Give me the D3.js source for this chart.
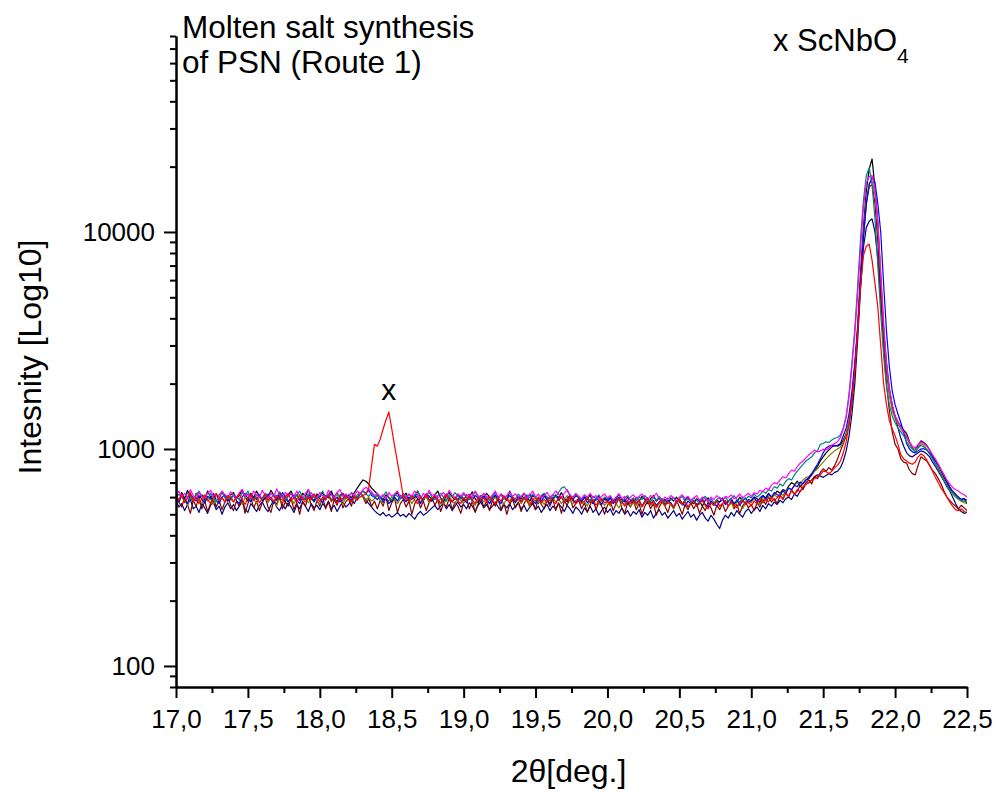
<!DOCTYPE html>
<html>
<head>
<meta charset="utf-8">
<script src="https://cdn.jsdelivr.net/npm/d3@7"></script>
<style>
  html, body { margin: 0; padding: 0; background: #fff; }
  svg { display: block; }
  text { font-family: Arial, "Liberation Sans", Helvetica, sans-serif; fill: #000; }
</style>
</head>
<body>
<svg id="chart" width="997" height="792"></svg>
<script>
// 2-theta sampling positions (deg.), shared by all scans
const angle = [
  17.00,17.02,17.04,17.06,17.08,17.10,17.12,17.14,17.16,17.18,
  17.20,17.22,17.24,17.26,17.28,17.30,17.32,17.34,17.36,17.38,
  17.40,17.42,17.44,17.46,17.48,17.50,17.52,17.54,17.56,17.58,
  17.60,17.62,17.64,17.66,17.68,17.70,17.72,17.74,17.76,17.78,
  17.80,17.82,17.84,17.86,17.88,17.90,17.92,17.94,17.96,17.98,
  18.00,18.02,18.04,18.06,18.08,18.10,18.12,18.14,18.16,18.18,
  18.20,18.22,18.24,18.26,18.28,18.30,18.32,18.34,18.36,18.38,
  18.40,18.42,18.44,18.46,18.48,18.50,18.52,18.54,18.56,18.58,
  18.60,18.62,18.64,18.66,18.68,18.70,18.72,18.74,18.76,18.78,
  18.80,18.82,18.84,18.86,18.88,18.90,18.92,18.94,18.96,18.98,
  19.00,19.02,19.04,19.06,19.08,19.10,19.12,19.14,19.16,19.18,
  19.20,19.22,19.24,19.26,19.28,19.30,19.32,19.34,19.36,19.38,
  19.40,19.42,19.44,19.46,19.48,19.50,19.52,19.54,19.56,19.58,
  19.60,19.62,19.64,19.66,19.68,19.70,19.72,19.74,19.76,19.78,
  19.80,19.82,19.84,19.86,19.88,19.90,19.92,19.94,19.96,19.98,
  20.00,20.02,20.04,20.06,20.08,20.10,20.12,20.14,20.16,20.18,
  20.20,20.22,20.24,20.26,20.28,20.30,20.32,20.34,20.36,20.38,
  20.40,20.42,20.44,20.46,20.48,20.50,20.52,20.54,20.56,20.58,
  20.60,20.62,20.64,20.66,20.68,20.70,20.72,20.74,20.76,20.78,
  20.80,20.82,20.84,20.86,20.88,20.90,20.92,20.94,20.96,20.98,
  21.00,21.02,21.04,21.06,21.08,21.10,21.12,21.14,21.16,21.18,
  21.20,21.22,21.24,21.26,21.28,21.30,21.32,21.34,21.36,21.38,
  21.40,21.42,21.44,21.46,21.48,21.50,21.52,21.54,21.56,21.58,
  21.60,21.62,21.64,21.66,21.68,21.70,21.72,21.74,21.76,21.78,
  21.80,21.82,21.84,21.86,21.88,21.90,21.92,21.94,21.96,21.98,
  22.00,22.02,22.04,22.06,22.08,22.10,22.12,22.14,22.16,22.18,
  22.20,22.22,22.24,22.26,22.28,22.30,22.32,22.34,22.36,22.38,
  22.40,22.42,22.44,22.46,22.48,22.50
];

// Measured intensities (counts) for each scan
const scanBlack = [
  610,575,630,590,645,600,570,625,595,615,
  580,640,600,565,620,590,635,605,575,615,
  630,590,610,650,600,575,625,595,640,605,
  585,620,600,645,610,580,630,600,570,615,
  640,595,615,580,625,605,650,600,575,620,
  600,630,585,615,640,595,570,610,625,590,
  615,595,630,660,690,720,710,690,660,640,
  620,600,585,615,595,570,610,630,590,605,
  625,580,610,595,640,600,575,620,605,585,
  615,640,595,570,610,630,600,585,620,595,
  580,615,600,635,590,565,610,595,625,600,
  575,610,590,620,600,580,640,595,570,605,
  590,625,600,575,610,595,560,600,620,585,
  605,580,615,595,630,590,570,605,585,610,
  595,570,600,585,615,560,590,605,575,595,
  580,600,565,590,620,585,570,600,580,560,
  595,575,605,585,560,590,610,575,595,565,
  585,560,595,575,600,570,555,585,600,570,
  560,590,575,545,580,595,565,550,580,570,
  595,560,575,590,555,570,600,580,560,585,
  575,600,590,565,610,595,625,600,615,640,
  625,650,640,675,700,685,710,670,695,720,
  730,760,790,830,880,920,960,990,1020,1040,
  1030,1050,1100,1180,1330,1700,2400,3700,6500,10500,
  15500,19500,21700,16000,11000,6000,3500,2300,1800,1550,
  1420,1330,1270,1220,1180,1080,1010,990,1040,1090,
  1070,1040,990,930,880,840,790,740,700,660,
  630,610,600,585,590,560
];
const scanNavy = [
  575,540,560,520,555,585,530,545,510,560,
  535,505,550,570,525,545,500,540,565,530,
  555,520,545,575,530,510,560,540,515,550,
  570,535,515,550,580,540,520,555,530,565,
  540,510,555,530,570,545,515,560,535,550,
  525,560,540,575,530,550,515,545,570,540,
  555,585,560,600,625,610,580,560,540,520,
  505,495,510,490,500,485,495,510,490,500,
  485,505,490,475,500,515,495,505,520,535,
  550,525,545,565,530,555,520,545,570,540,
  555,530,565,545,515,550,570,535,555,525,
  545,570,540,520,555,535,560,525,545,565,
  530,550,515,540,560,525,545,510,535,555,
  520,545,530,560,540,515,550,530,505,540,
  525,500,535,515,545,510,530,495,520,540,
  510,530,495,520,505,535,500,520,490,515,
  500,525,485,510,495,520,480,505,525,495,
  510,480,500,520,490,505,475,495,515,485,
  500,470,495,510,480,465,495,475,450,430,
  470,495,480,510,490,520,500,485,515,530,
  505,525,540,515,550,530,560,545,570,555,
  580,565,590,600,585,620,605,640,660,690,
  700,720,745,760,750,740,755,770,760,780,
  790,820,880,980,1150,1450,2000,3200,5500,8500,
  10500,11200,11500,10000,7500,5000,3500,2500,1900,1600,
  1400,1250,1120,1030,960,930,920,940,960,980,
  970,950,920,870,830,790,750,710,670,640,
  600,560,530,515,505,510
];
const scanWine = [
  625,570,540,600,555,505,580,545,595,530,
  575,515,560,600,540,580,525,570,610,550,
  520,575,545,590,505,560,600,535,575,520,
  565,600,540,510,580,555,610,530,570,545,
  590,525,565,500,575,545,605,555,520,580,
  545,600,530,570,515,585,550,605,535,570,
  590,545,610,580,625,600,560,590,545,575,
  530,580,545,600,520,565,590,510,560,585,
  540,575,500,560,590,535,575,520,565,595,
  550,585,515,560,540,595,525,570,545,505,
  565,590,530,575,510,555,600,540,575,520,
  580,545,590,525,565,500,555,585,535,570,
  515,560,590,540,575,525,600,555,530,580,
  545,590,520,565,505,575,550,595,535,560,
  580,530,565,510,555,585,525,570,545,500,
  550,575,520,560,595,535,505,565,540,580,
  525,560,500,545,575,530,560,495,540,570,
  545,510,565,530,580,540,500,555,525,565,
  530,560,505,545,520,570,535,495,550,525,
  560,515,545,575,530,555,505,545,570,535,
  555,520,565,540,585,555,600,570,590,560,
  610,585,630,600,650,620,640,680,650,700,
  720,690,750,730,780,810,790,820,800,840,
  900,980,1060,1150,1300,1650,2300,3500,5900,9500,
  13500,16200,16500,13500,9000,5000,3000,2000,1500,1200,
  1050,1000,900,870,860,800,770,760,840,920,
  900,880,840,800,770,730,690,640,600,580,
  560,545,530,550,535,520
];
const scanOlive = [
  595,565,610,580,550,600,575,620,585,560,
  605,575,590,555,615,580,600,565,590,610,
  570,600,585,555,595,620,575,590,560,600,
  585,615,565,595,575,545,600,580,610,570,
  595,560,590,615,580,600,565,585,605,575,
  555,595,580,610,570,590,620,575,560,595,
  600,575,590,615,630,605,585,600,575,590,
  610,580,560,595,575,600,585,560,590,605,
  575,595,560,590,610,570,585,600,565,580,
  600,570,590,555,585,605,575,560,595,580,
  565,590,610,575,550,585,600,570,590,560,
  585,600,565,580,555,595,575,605,570,585,
  560,590,575,545,585,600,565,580,555,590,
  575,600,570,590,560,585,610,575,560,580,
  590,560,575,545,580,565,590,555,575,550,
  570,545,580,560,535,570,555,580,545,565,
  550,575,540,565,580,550,565,535,560,575,
  545,570,555,530,565,580,550,570,540,560,
  575,545,560,580,550,535,565,550,575,545,
  560,580,545,565,540,575,555,530,560,580,
  565,590,570,555,590,580,605,585,615,600,
  625,610,640,660,645,680,700,690,720,740,
  745,770,790,810,840,870,900,930,955,980,
  1000,1020,1080,1170,1350,1700,2400,3600,6000,9800,
  14000,16800,17200,15000,11000,6500,3800,2400,1800,1500,
  1380,1300,1240,1180,1120,1060,1010,990,1020,1060,
  1040,1000,950,910,860,820,770,720,680,650,
  620,600,585,575,565,560
];
const scanBlue = [
  600,570,615,585,560,620,595,575,610,585,
  565,605,590,625,580,560,600,615,575,595,
  610,580,560,600,625,590,570,605,585,615,
  575,595,620,585,560,605,590,630,600,570,
  595,615,580,560,600,585,620,595,570,605,
  590,565,610,595,625,580,600,570,590,615,
  600,580,610,595,620,640,625,645,610,600,
  585,605,570,595,560,580,600,575,610,590,
  570,600,585,615,590,560,595,620,585,575,
  605,585,560,595,620,590,570,600,580,610,
  590,565,600,580,610,595,570,605,585,560,
  595,615,580,560,600,585,610,590,565,600,
  575,600,590,620,580,560,595,575,605,585,
  560,595,610,580,600,570,590,615,585,565,
  590,575,600,565,585,560,595,580,555,590,
  570,595,560,580,600,565,585,555,575,590,
  560,580,545,575,595,560,580,550,570,590,
  555,580,565,540,575,590,560,545,575,560,
  580,550,570,590,555,540,575,560,545,570,
  585,555,570,590,560,580,550,575,595,565,
  580,600,570,595,610,585,620,600,630,615,
  610,640,625,660,650,680,670,705,690,720,
  740,770,810,850,900,960,1010,1030,1040,1030,
  1040,1060,1150,1250,1450,1850,2500,3600,6000,9500,
  13500,16500,17900,17000,13500,10000,5800,3500,2400,1850,
  1600,1450,1320,1200,1060,1000,970,960,980,1000,
  1000,990,960,920,880,850,800,760,710,670,
  640,620,600,585,590,580
];
const scanTeal = [
  590,620,600,575,630,605,585,615,640,600,
  610,585,625,600,570,615,635,595,610,580,
  620,600,585,630,610,640,595,580,615,600,
  585,625,605,590,620,600,635,610,580,605,
  625,595,610,640,600,585,615,630,600,590,
  610,640,595,620,585,605,630,600,615,590,
  605,630,610,595,625,640,620,605,630,600,
  615,590,605,635,600,580,620,605,590,625,
  600,620,590,610,640,605,580,615,630,600,
  585,610,625,600,575,615,600,630,605,590,
  620,600,585,610,635,600,590,620,600,580,
  605,630,595,615,585,610,630,600,590,620,
  600,585,615,595,620,600,580,610,625,600,
  590,615,600,630,660,670,640,610,600,625,
  600,585,610,595,575,605,590,615,580,600,
  590,605,575,600,585,565,595,610,580,595,
  575,600,585,610,590,570,600,580,605,585,
  570,595,580,600,565,590,605,575,590,570,
  595,580,560,590,605,575,590,565,585,600,
  580,600,575,590,610,585,570,600,585,605,
  595,620,600,615,640,625,650,640,670,660,
  690,675,710,730,720,760,790,820,850,880,
  900,920,960,980,1050,1060,1080,1070,1100,1120,
  1130,1160,1250,1420,1800,2500,3600,5700,9300,14000,
  18200,19800,16500,11500,7000,4200,2700,1950,1600,1420,
  1320,1250,1200,1150,1080,1030,1000,970,1010,1040,
  1020,990,950,900,850,810,760,720,680,650,
  630,610,590,580,575,570
];
const scanMagenta = [
  615,640,600,625,595,650,610,585,630,605,
  595,625,645,605,620,590,640,615,600,635,
  610,590,630,650,605,620,595,640,615,600,
  645,610,590,625,600,655,615,595,630,605,
  620,600,640,610,585,625,650,605,620,595,
  630,610,595,645,615,600,630,650,605,620,
  600,625,610,640,620,650,665,655,635,610,
  625,600,615,590,630,605,620,640,600,615,
  595,620,605,640,615,590,625,600,645,610,
  620,595,610,630,600,645,615,590,620,605,
  630,605,620,595,640,610,600,625,605,590,
  615,640,600,620,590,610,635,605,620,600,
  605,625,590,615,640,600,620,595,610,630,
  600,615,640,620,600,625,650,610,595,620,
  605,590,615,600,625,595,610,585,605,620,
  595,610,580,600,620,590,605,575,600,615,
  590,605,620,595,580,610,600,625,590,575,
  600,585,610,595,570,600,615,590,605,580,
  595,610,580,600,590,570,600,585,610,590,
  580,605,595,615,590,600,620,595,610,625,
  605,630,620,645,635,660,650,680,700,690,
  720,745,735,770,800,790,830,860,880,910,
  940,960,990,970,980,995,990,1010,1040,1060,
  1080,1130,1240,1400,1750,2400,3400,5200,8500,13000,
  16800,18000,18200,16000,11000,6500,3800,2500,1900,1600,
  1420,1330,1260,1200,1140,1080,1030,1010,1050,1080,
  1060,1030,990,940,900,850,800,760,720,690,
  665,650,640,625,615,600
];
const scanRed = [
  605,580,620,565,595,630,575,600,560,590,
  615,585,560,600,625,580,595,570,610,590,
  570,600,620,585,555,595,615,580,600,565,
  595,620,580,600,570,610,585,560,600,625,
  580,595,565,610,590,570,605,585,620,595,
  570,600,585,615,575,595,560,600,580,610,
  590,570,605,585,600,610,620,660,840,1050,
  1030,1110,1236,1360,1480,1240,1030,870,727,607,
  590,575,610,580,560,600,585,615,575,595,
  605,580,560,595,615,585,570,600,580,560,
  595,575,610,585,560,600,580,595,570,605,
  580,560,595,575,610,585,565,600,580,590,
  570,600,580,555,590,575,600,565,585,570,
  595,575,560,590,600,570,585,605,575,560,
  585,560,575,595,565,580,550,575,590,565,
  575,555,580,560,590,570,545,575,560,585,
  560,580,545,570,590,555,575,540,565,580,
  550,575,560,540,570,585,555,570,540,565,
  575,545,560,580,550,530,565,550,575,545,
  560,580,545,570,550,535,565,580,555,570,
  545,575,560,590,565,585,570,600,580,595,
  610,590,625,605,640,620,650,635,670,690,
  700,715,730,745,760,790,785,770,790,820,
  840,880,960,1080,1300,1700,2300,3500,5600,7800,
  8600,8800,7400,5800,4500,3000,2000,1600,1350,1240,
  1150,1050,940,900,880,860,850,870,920,950,
  930,890,840,790,740,700,660,630,600,570,
  545,525,520,530,515,510
];

// Scans in drawing order with their line colours
const scanNames = ["black", "navy", "wine", "olive", "blue", "teal", "magenta", "red"];
const scanColors = ["#000000", "#000080", "#800000", "#808000", "#0000FF", "#008080", "#FF00FF", "#FF0000"];
const scans = [scanBlack, scanNavy, scanWine, scanOlive, scanBlue, scanTeal, scanMagenta, scanRed];

// Axis ticks
const xMajorTicks = [17.0, 17.5, 18.0, 18.5, 19.0, 19.5, 20.0, 20.5, 21.0, 21.5, 22.0, 22.5];
const xMinorTicks = [17.25, 17.75, 18.25, 18.75, 19.25, 19.75, 20.25, 20.75, 21.25, 21.75, 22.25];
const yMajorTicks = [100, 1000, 10000];
const yMinorTicks = [80, 90, 200, 300, 400, 500, 600, 700, 800, 900,
  2000, 3000, 4000, 5000, 6000, 7000, 8000, 9000,
  20000, 30000, 40000, 50000, 60000, 70000, 80000];

const svg = d3.select("#chart");
const plot = { left: 176, right: 967, top: 36, bottom: 687 };

const x = d3.scaleLinear().domain([17.0, 22.5]).range([plot.left, plot.right]);
const y = d3.scaleLog().domain([80, 80000]).range([plot.bottom, plot.top]);

svg.append("clipPath").attr("id", "plotClip")
  .append("rect")
  .attr("x", plot.left).attr("y", plot.top)
  .attr("width", plot.right - plot.left).attr("height", plot.bottom - plot.top);

// Diffraction scans
const line = d3.line()
  .x((d, i) => x(angle[i]))
  .y(d => y(d));

svg.append("g").attr("clip-path", "url(#plotClip)")
  .selectAll("path")
  .data(scans)
  .join("path")
  .attr("class", (d, i) => "scan-" + scanNames[i])
  .attr("d", line)
  .attr("fill", "none")
  .attr("stroke", (d, i) => scanColors[i])
  .attr("stroke-width", 1.2)
  .attr("stroke-linejoin", "round");

// Axes
const commaFmt = v => d3.format(".1f")(v).replace(".", ",");

function styleAxis(g) {
  g.selectAll(".domain").attr("stroke", "#000").attr("stroke-width", 2);
  g.selectAll(".tick line").attr("stroke", "#000").attr("stroke-width", 2);
}

svg.append("g")
  .attr("transform", `translate(0,${plot.bottom})`)
  .call(d3.axisBottom(x).tickValues(xMinorTicks).tickSize(6).tickSizeOuter(0).tickFormat(""))
  .call(styleAxis);

const xAxis = svg.append("g")
  .attr("transform", `translate(0,${plot.bottom})`)
  .call(d3.axisBottom(x).tickValues(xMajorTicks).tickSize(11).tickSizeOuter(0).tickPadding(12).tickFormat(commaFmt))
  .call(styleAxis);
xAxis.selectAll(".tick text")
  .attr("font-size", 26)
  .attr("font-family", "Arial, 'Liberation Sans', sans-serif");

svg.append("g")
  .attr("transform", `translate(${plot.left},0)`)
  .call(d3.axisLeft(y).tickValues(yMinorTicks).tickSize(6).tickSizeOuter(0).tickFormat(""))
  .call(styleAxis);

const yAxis = svg.append("g")
  .attr("transform", `translate(${plot.left},0)`)
  .call(d3.axisLeft(y).tickValues(yMajorTicks).tickSize(12).tickSizeOuter(0).tickPadding(9).tickFormat(d3.format("d")))
  .call(styleAxis);
yAxis.selectAll(".tick text")
  .attr("font-size", 26)
  .attr("font-family", "Arial, 'Liberation Sans', sans-serif");

// Axis titles
svg.append("text")
  .attr("x", (plot.left + plot.right) / 2 - 3)
  .attr("y", 782)
  .attr("text-anchor", "middle")
  .attr("font-size", 32)
  .text("2θ[deg.]");

svg.append("text")
  .attr("transform", "translate(41,357) rotate(-90)")
  .attr("text-anchor", "middle")
  .attr("font-size", 32)
  .text("Intesnity [Log10]");

// Annotations
const title = svg.append("text").attr("font-size", 31.5);
title.append("tspan").attr("x", 182).attr("y", 38).text("Molten salt synthesis");
title.append("tspan").attr("x", 182).attr("y", 73).text("of PSN (Route 1)");

const phase = svg.append("text").attr("x", 773).attr("y", 51).attr("font-size", 31);
phase.append("tspan").text("x ScNbO");
phase.append("tspan").attr("dy", 12).attr("font-size", 21).text("4");

// Impurity marker above the red scan's reflection
const markerAngle = 18.48;
svg.append("text")
  .attr("x", x(markerAngle))
  .attr("y", y(1480) - 12)
  .attr("text-anchor", "middle")
  .attr("font-size", 30)
  .text("x");
</script>
</body>
</html>
